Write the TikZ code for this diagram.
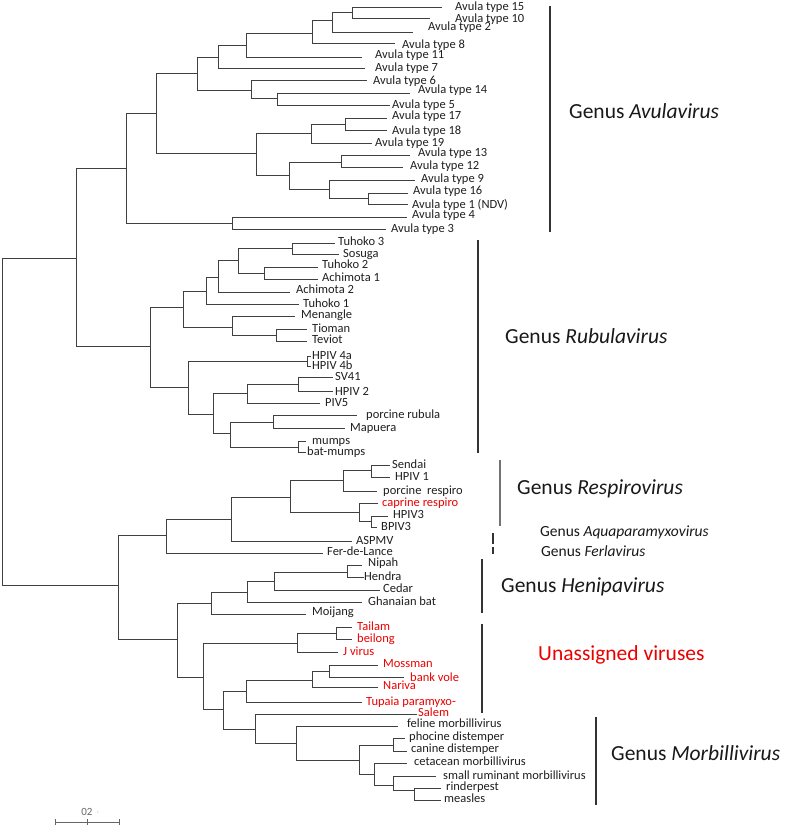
\documentclass[tikz,border=0pt]{standalone}
\usepackage{fontspec}
\setmainfont{Carlito}
\begin{document}
\begin{tikzpicture}[x=1pt,y=-1pt,
  br/.style={draw=black!75, line width=0.9pt},
  lf/.style={anchor=west, inner sep=0pt, font=\fontsize{12.5}{13}\selectfont, text=black!88, text height=0.75em, text depth=0.15em},
  rd/.style={lf, text=red!92!black},
  bar/.style={draw=black!80, line width=1.4pt},
  big/.style={anchor=west, inner sep=0pt, font=\fontsize{21.5}{24}\selectfont, text=black!90, text height=0.75em, text depth=0.15em},
  mid/.style={anchor=west, inner sep=0pt, font=\fontsize{15.5}{18}\selectfont, text=black!90, text height=0.75em, text depth=0.15em}]
\fill[white] (0,0) rectangle (785,835);
\useasboundingbox (0,0) rectangle (785,835);
% internal nodes
\coordinate (R) at (2,420);
\coordinate (A) at (76,258);
\coordinate (M) at (118,585);
\coordinate (AV) at (126,168);
\coordinate (RU) at (150,346);
\coordinate (AV1) at (156,113);
\coordinate (AV2) at (232,223);
\coordinate (AV3) at (197,73);
\coordinate (AV4) at (256,153);
\coordinate (AV5) at (218,57);
\coordinate (AV6) at (251,90);
\coordinate (AV7) at (246,45);
\coordinate (AV8) at (312,33);
\coordinate (AV9) at (332,20);
\coordinate (AV10) at (352,12);
\coordinate (AV11) at (277,98);
\coordinate (AV12) at (311,133);
\coordinate (AV13) at (289,175);
\coordinate (AV14) at (345,124);
\coordinate (AV15) at (341,162);
\coordinate (AV16) at (329,189);
\coordinate (AV17) at (368,198);
\coordinate (RU1) at (183,307);
\coordinate (RU2) at (188,387);
\coordinate (RU3) at (206,291);
\coordinate (RU4) at (232,327);
\coordinate (RU5) at (218,277);
\coordinate (RU6) at (238,260);
\coordinate (RU7) at (292,248);
\coordinate (RU8) at (264,273);
\coordinate (RU9) at (276,335);
\coordinate (RU10) at (307,361);
\coordinate (RU11) at (213,414);
\coordinate (RU12) at (247,393);
\coordinate (RU13) at (230,433);
\coordinate (RU14) at (298,384);
\coordinate (RU15) at (273,422);
\coordinate (RU16) at (298,447);
\coordinate (P1) at (166,535);
\coordinate (P2) at (177,639);
\coordinate (P3) at (231,519);
\coordinate (P4) at (290,497);
\coordinate (P5) at (343,480);
\coordinate (P6) at (359,512);
\coordinate (P7) at (371,470);
\coordinate (P8) at (371,521);
\coordinate (H1) at (211,603);
\coordinate (H2) at (247,592);
\coordinate (H3) at (274,581);
\coordinate (H4) at (347,572);
\coordinate (U1) at (203,677);
\coordinate (U2) at (297,643);
\coordinate (U3) at (223,709);
\coordinate (U4) at (336,633);
\coordinate (U5) at (246,691);
\coordinate (U6) at (255,729);
\coordinate (U7) at (312,680);
\coordinate (U8) at (329,671);
\coordinate (MB1) at (296,743);
\coordinate (MB2) at (359,760);
\coordinate (MB3) at (393,745);
\coordinate (MB4) at (374,774);
\coordinate (MB5) at (393,785);
\coordinate (MB6) at (414,790);
% leaf ends
\coordinate (a15) at (442,7);
\coordinate (a10) at (430,18);
\coordinate (a2) at (413,32);
\coordinate (a8) at (395,43);
\coordinate (a11) at (362,57);
\coordinate (a7) at (365,68);
\coordinate (a6) at (367,80);
\coordinate (a14) at (410,93);
\coordinate (a5) at (390,105);
\coordinate (a17) at (387,118);
\coordinate (a18) at (387,130);
\coordinate (a19) at (372,143);
\coordinate (a13) at (410,155);
\coordinate (a12) at (403,167);
\coordinate (a9) at (415,180);
\coordinate (a16) at (408,193);
\coordinate (a1) at (408,204);
\coordinate (a4) at (407,217);
\coordinate (a3) at (386,229);
\coordinate (tu3) at (335,243);
\coordinate (sos) at (339,254);
\coordinate (tu2) at (318,267);
\coordinate (ac1) at (318,279);
\coordinate (ac2) at (290,292);
\coordinate (tu1) at (299,304);
\coordinate (men) at (295,316);
\coordinate (tio) at (307,329);
\coordinate (tev) at (307,341);
\coordinate (h4a) at (311,356);
\coordinate (h4b) at (311,366);
\coordinate (sv41) at (333,377);
\coordinate (hp2) at (333,391);
\coordinate (piv5) at (320,403);
\coordinate (prub) at (357,415);
\coordinate (map) at (345,428);
\coordinate (mum) at (306,441);
\coordinate (bmum) at (306,452);
\coordinate (sen) at (390,465);
\coordinate (hp1) at (390,477);
\coordinate (presp) at (377,491);
\coordinate (cap) at (378,503);
\coordinate (hp3) at (388,516);
\coordinate (bp3) at (377,527);
\coordinate (asp) at (352,541);
\coordinate (fdl) at (323,553);
\coordinate (nip) at (362,565);
\coordinate (hen) at (364,577);
\coordinate (ced) at (380,590);
\coordinate (gha) at (362,602);
\coordinate (moi) at (306,614);
\coordinate (tai) at (352,627);
\coordinate (bei) at (352,639);
\coordinate (jv) at (338,652);
\coordinate (mos) at (378,665);
\coordinate (bv) at (404,677);
\coordinate (nar) at (378,687);
\coordinate (tup) at (362,702);
\coordinate (sal) at (417,714);
\coordinate (fel) at (398,726);
\coordinate (pho) at (405,738);
\coordinate (can) at (407,751);
\coordinate (cet) at (407,763);
\coordinate (srm) at (436,776);
\coordinate (rin) at (441,788);
\coordinate (mea) at (441,800);
% branches
\foreach \p/\c in {R/A,R/M,A/AV,A/RU,AV/AV1,AV/AV2,AV1/AV3,AV1/AV4,AV3/AV5,AV3/AV6,
  AV5/AV7,AV5/a7,AV7/AV8,AV7/a11,AV8/AV9,AV8/a8,AV9/AV10,AV9/a2,AV10/a15,AV10/a10,
  AV6/a6,AV6/AV11,AV11/a14,AV11/a5,AV4/AV12,AV4/AV13,AV12/AV14,AV12/a19,AV14/a17,AV14/a18,
  AV13/AV15,AV13/AV16,AV15/a13,AV15/a12,AV16/a9,AV16/AV17,AV17/a16,AV17/a1,AV2/a4,AV2/a3,
  RU/RU1,RU/RU2,RU1/RU3,RU1/RU4,RU3/RU5,RU3/tu1,RU5/RU6,RU5/ac2,RU6/RU7,RU6/RU8,
  RU7/tu3,RU7/sos,RU8/tu2,RU8/ac1,RU4/men,RU4/RU9,RU9/tio,RU9/tev,RU2/RU10,RU2/RU11,
  RU10/h4a,RU10/h4b,RU11/RU12,RU11/RU13,RU12/RU14,RU12/piv5,RU14/sv41,RU14/hp2,
  RU13/RU15,RU13/RU16,RU15/prub,RU15/map,RU16/mum,RU16/bmum,
  M/P1,M/P2,P1/P3,P1/fdl,P3/P4,P3/asp,P4/P5,P4/P6,P5/P7,P5/presp,P7/sen,P7/hp1,
  P6/cap,P6/P8,P8/hp3,P8/bp3,P2/H1,P2/U1,H1/H2,H1/moi,H2/H3,H2/gha,H3/H4,H3/ced,
  H4/nip,H4/hen,U1/U2,U1/U3,U2/U4,U2/jv,U4/tai,U4/bei,U3/U5,U3/U6,U5/U7,U5/tup,
  U7/U8,U7/nar,U8/mos,U8/bv,U6/sal,U6/MB1,MB1/fel,MB1/MB2,MB2/MB3,MB2/MB4,
  MB3/pho,MB3/can,MB4/cet,MB4/MB5,MB5/srm,MB5/MB6,MB6/rin,MB6/mea}
  \draw[br] (\p) |- (\c);
% leaf labels
\node[lf] (ta15) at (455,7) {Avula type 15};
\node[lf] (ta10) at (455,19) {Avula type 10};
\node[lf] (ta2) at (428,27) {Avula type 2};
\node[lf] (ta8) at (402,45) {Avula type 8};
\node[lf] (ta11) at (375,55) {Avula type 11};
\node[lf] (ta7) at (375,68) {Avula type 7};
\node[lf] (ta6) at (373,81) {Avula type 6};
\node[lf] (ta14) at (418,90) {Avula type 14};
\node[lf] (ta5) at (392,105) {Avula type 5};
\node[lf] (ta17) at (392,116) {Avula type 17};
\node[lf] (ta18) at (392,131) {Avula type 18};
\node[lf] (ta19) at (375,143) {Avula type 19};
\node[lf] (ta13) at (418,153) {Avula type 13};
\node[lf] (ta12) at (410,166) {Avula type 12};
\node[lf] (ta9) at (421,179) {Avula type 9};
\node[lf] (ta16) at (413,191) {Avula type 16};
\node[lf] (ta1) at (412,205) {Avula type 1 (NDV)};
\node[lf] (ta4) at (412,215) {Avula type 4};
\node[lf] (ta3) at (391,229) {Avula type 3};
\node[lf] (ttu3) at (338,242) {Tuhoko 3};
\node[lf] (tsos) at (343,254) {Sosuga};
\node[lf] (ttu2) at (322,265) {Tuhoko 2};
\node[lf] (tac1) at (322,278) {Achimota 1};
\node[lf] (tac2) at (296,290) {Achimota 2};
\node[lf] (ttu1) at (303,304) {Tuhoko 1};
\node[lf] (tmen) at (301,315) {Menangle};
\node[lf] (ttio) at (312,329) {Tioman};
\node[lf] (ttev) at (312,340) {Teviot};
\node[lf] (th4a) at (312,356) {HPIV 4a};
\node[lf] (th4b) at (312,366) {HPIV 4b};
\node[lf] (tsv41) at (335,377) {SV41};
\node[lf] (thp2) at (335,392) {HPIV 2};
\node[lf] (tpiv5) at (325,403) {PIV5};
\node[lf] (tprub) at (366,415) {porcine rubula};
\node[lf] (tmap) at (350,428) {Mapuera};
\node[lf] (tmum) at (312,441) {mumps};
\node[lf] (tbmum) at (307,452) {bat-mumps};
\node[lf] (tsen) at (392,465) {Sendai};
\node[lf] (thp1) at (395,477) {HPIV 1};
\node[lf] (tpresp) at (383,491) {porcine\ \ respiro};
\node[rd] (tcap) at (382,503) {caprine respiro};
\node[lf] (thp3) at (393,515) {HPIV3};
\node[lf] (tbp3) at (381,527) {BPIV3};
\node[lf] (tasp) at (356,541) {ASPMV};
\node[lf] (tfdl) at (327,552) {Fer-de-Lance};
\node[lf] (tnip) at (368,563) {Nipah};
\node[lf] (then) at (364,577) {Hendra};
\node[lf] (tced) at (383,589) {Cedar};
\node[lf] (tgha) at (368,602) {Ghanaian bat};
\node[lf] (tmoi) at (312,612) {Moijang};
\node[rd] (ttai) at (357,627) {Tailam};
\node[rd] (tbei) at (357,639) {beilong};
\node[rd] (tjv) at (343,652) {J virus};
\node[rd] (tmos) at (383,664) {Mossman};
\node[rd] (tbv) at (410,678) {bank vole};
\node[rd] (tnar) at (383,686) {Nariva};
\node[rd] (ttup) at (366,702) {Tupaia paramyxo-};
\node[rd] (tsal) at (418,713) {Salem};
\node[lf] (tfel) at (407,724) {feline morbillivirus};
\node[lf] (tpho) at (409,737) {phocine distemper};
\node[lf] (tcan) at (411,749) {canine distemper};
\node[lf] (tcet) at (414,762) {cetacean morbillivirus};
\node[lf] (tsrm) at (443,776) {small ruminant morbillivirus};
\node[lf] (trin) at (446,787) {rinderpest};
\node[lf] (tmea) at (444,799) {measles};
% genus bars
\coordinate (b1t) at (550,6);   \coordinate (b1b) at (550,232);
\coordinate (b2t) at (478,240); \coordinate (b2b) at (478,453);
\coordinate (b3t) at (500,460); \coordinate (b3b) at (500,526);
\coordinate (b4t) at (493,533); \coordinate (b4b) at (493,544);
\coordinate (b5t) at (493,547); \coordinate (b5b) at (493,554);
\coordinate (b6t) at (482,559); \coordinate (b6b) at (482,613);
\coordinate (b7t) at (482,624); \coordinate (b7b) at (482,713);
\coordinate (b8t) at (596,717); \coordinate (b8b) at (596,805);
\draw[bar] (b1t) -- (b1b);
\draw[bar] (b2t) -- (b2b);
\draw[bar, draw=black!55] (b3t) -- (b3b);
\draw[bar, line width=1.1pt] (b4t) -- (b4b);
\draw[bar, line width=1.1pt] (b5t) -- (b5b);
\draw[bar] (b6t) -- (b6b);
\draw[bar] (b7t) -- (b7b);
\draw[bar] (b8t) -- (b8b);
\node[big] (gav) at (569,115) {Genus \textit{Avulavirus}};
\node[big] (gru) at (505,340) {Genus \textit{Rubulavirus}};
\node[big] (gre) at (517,491) {Genus \textit{Respirovirus}};
\node[mid] (gaq) at (540,533) {Genus \textit{Aquaparamyxovirus}};
\node[mid] (gfe) at (541,553) {Genus \textit{Ferlavirus}};
\node[big] (ghe) at (501,589) {Genus \textit{Henipavirus}};
\node[big, text=red!92!black] (gun) at (538,657) {Unassigned viruses};
\node[big] (gmo) at (611,757) {Genus \textit{Morbillivirus}};
% scale bar
\coordinate (sb1) at (55,822);
\coordinate (sb2) at (119,822);
\coordinate (sbm) at (87,822);
\draw[black!60, line width=0.7pt] (sb1) -- (sb2);
\foreach \c in {sb1,sb2,sbm} \draw[black!60, line width=0.7pt] (\c) ++(0,-3) -- ++(0,6);
\node[anchor=center, inner sep=0pt, font=\fontsize{11}{12}\selectfont, text=black!60] (sbl) at (90,812) {02\ \ \raisebox{2pt}{\tiny:}};
\end{tikzpicture}
\end{document}
